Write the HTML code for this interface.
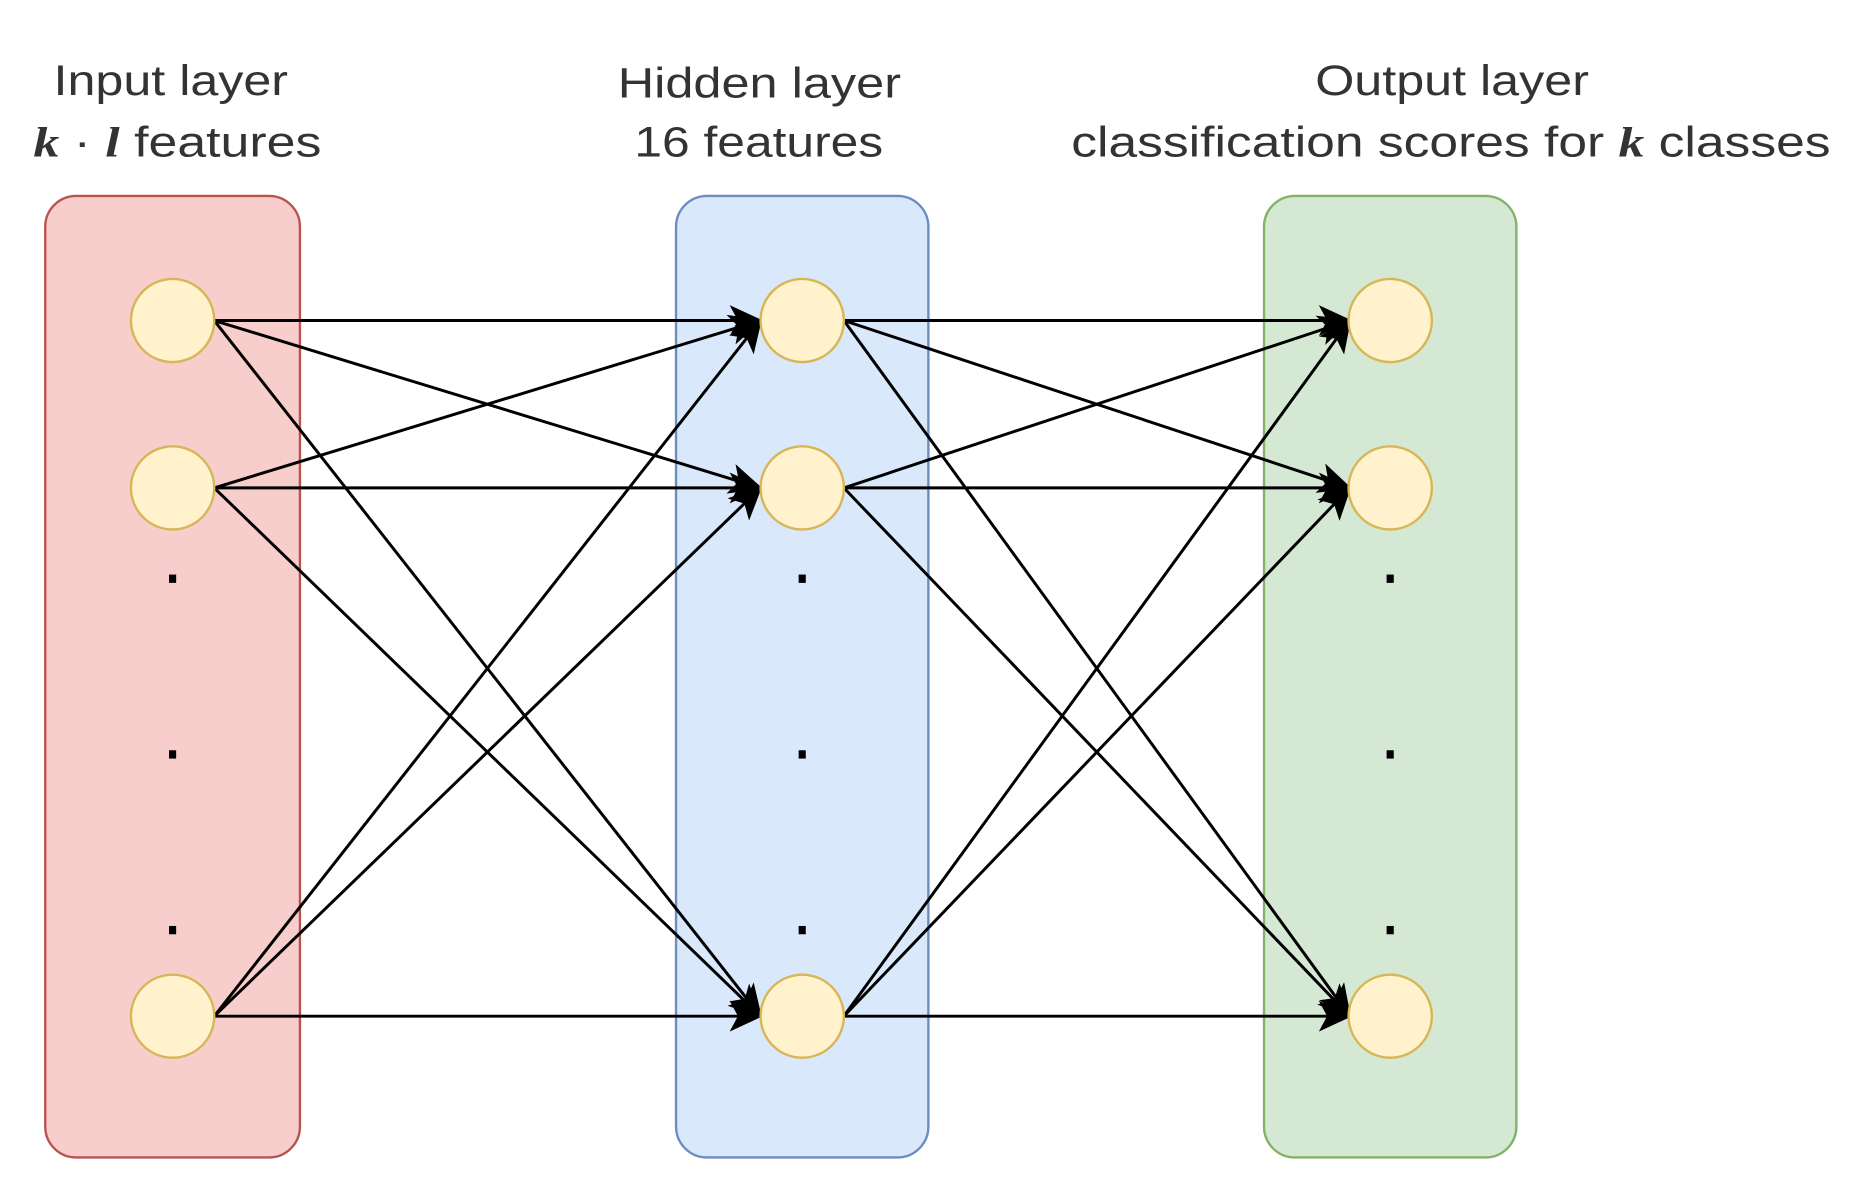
<!DOCTYPE html>
<html><head><meta charset="utf-8"><style>
html,body{margin:0;padding:0;background:#fff;}
svg{display:block;}
text{font-family:"Liberation Sans",sans-serif;font-size:36px;fill:#333;}
</style></head><body>
<svg width="1852" height="1199" viewBox="0 0 1556 1010" preserveAspectRatio="none" xmlns="http://www.w3.org/2000/svg">
<defs>
<marker id="a" viewBox="0 0 28 26" refX="26" refY="13" markerWidth="28" markerHeight="26" markerUnits="userSpaceOnUse" orient="auto">
<path d="M0,0 L28,13 L0,26 L7,13 Z" fill="#000"/>
</marker>
</defs>
<rect x="38" y="165" width="214" height="810" rx="26" fill="#f8cecc" stroke="#b85450" stroke-width="2"/>
<rect x="568" y="165" width="212" height="810" rx="26" fill="#dae8fc" stroke="#6c8ebf" stroke-width="2"/>
<rect x="1062" y="165" width="212" height="810" rx="26" fill="#d5e8d4" stroke="#82b366" stroke-width="2"/>
<text x="45" y="80" textLength="197" lengthAdjust="spacingAndGlyphs">Input layer</text>
<text x="28" y="132" textLength="242" lengthAdjust="spacingAndGlyphs"><tspan font-family="Liberation Serif" font-style="italic" font-weight="bold">k</tspan> · <tspan font-family="Liberation Serif" font-style="italic" font-weight="bold">l</tspan> features</text>
<text x="519" y="82" textLength="238" lengthAdjust="spacingAndGlyphs">Hidden layer</text>
<text x="533" y="132" textLength="209" lengthAdjust="spacingAndGlyphs">16 features</text>
<text x="1105" y="80" textLength="230" lengthAdjust="spacingAndGlyphs">Output layer</text>
<text x="900" y="132" textLength="638" lengthAdjust="spacingAndGlyphs">classification scores for <tspan font-family="Liberation Serif" font-style="italic" font-weight="bold">k</tspan>  classes</text>
<g stroke="#000" stroke-width="2.5" fill="none" marker-end="url(#a)">
<line x1="180" y1="270" x2="639" y2="270"/>
<line x1="180" y1="270" x2="639" y2="411"/>
<line x1="180" y1="270" x2="639" y2="856"/>
<line x1="180" y1="411" x2="639" y2="270"/>
<line x1="180" y1="411" x2="639" y2="411"/>
<line x1="180" y1="411" x2="639" y2="856"/>
<line x1="180" y1="856" x2="639" y2="270"/>
<line x1="180" y1="856" x2="639" y2="411"/>
<line x1="180" y1="856" x2="639" y2="856"/>
<line x1="709" y1="270" x2="1134" y2="270"/>
<line x1="709" y1="270" x2="1134" y2="411"/>
<line x1="709" y1="270" x2="1134" y2="856"/>
<line x1="709" y1="411" x2="1134" y2="270"/>
<line x1="709" y1="411" x2="1134" y2="411"/>
<line x1="709" y1="411" x2="1134" y2="856"/>
<line x1="709" y1="856" x2="1134" y2="270"/>
<line x1="709" y1="856" x2="1134" y2="411"/>
<line x1="709" y1="856" x2="1134" y2="856"/>
</g>
<g fill="#fff2cc" stroke="#d6b656" stroke-width="2">
<ellipse cx="145" cy="270" rx="35" ry="35"/>
<ellipse cx="145" cy="411" rx="35" ry="35"/>
<ellipse cx="145" cy="856" rx="35" ry="35"/>
<ellipse cx="674" cy="270" rx="35" ry="35"/>
<ellipse cx="674" cy="411" rx="35" ry="35"/>
<ellipse cx="674" cy="856" rx="35" ry="35"/>
<ellipse cx="1168" cy="270" rx="35" ry="35"/>
<ellipse cx="1168" cy="411" rx="35" ry="35"/>
<ellipse cx="1168" cy="856" rx="35" ry="35"/>
</g>
<g fill="#000">
<rect x="142" y="484" width="6" height="7"/><rect x="142" y="632" width="6" height="7"/><rect x="142" y="780" width="6" height="7"/>
<rect x="671" y="484" width="6" height="7"/><rect x="671" y="632" width="6" height="7"/><rect x="671" y="780" width="6" height="7"/>
<rect x="1165" y="484" width="6" height="7"/><rect x="1165" y="632" width="6" height="7"/><rect x="1165" y="780" width="6" height="7"/>
</g>
</svg>
</body></html>
